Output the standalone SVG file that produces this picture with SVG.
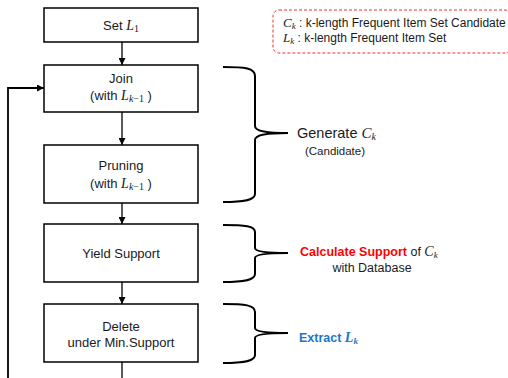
<svg xmlns="http://www.w3.org/2000/svg" width="508" height="378" viewBox="0 0 508 378">
<style>
.box{fill:#fff;stroke:#000;stroke-width:1.5}
.t{font-family:"Liberation Sans",Arial,sans-serif;font-size:13px;fill:#1a1a1a;text-anchor:middle}
.m{font-family:"Liberation Serif","DejaVu Serif",serif;font-style:italic}
.n{font-family:"Liberation Serif","DejaVu Serif",serif;font-style:normal}
.br{fill:none;stroke:#000;stroke-width:2}
.con{fill:none;stroke:#000;stroke-width:1.3}
.lg{font-family:"Liberation Sans",Arial,sans-serif;font-size:12px;fill:#1a1a1a}
</style>
<defs>
<marker id="ah" viewBox="0 0 10 10" refX="10" refY="5" markerWidth="7" markerHeight="7" orient="auto" markerUnits="userSpaceOnUse">
<path d="M0,0 L10,5 L0,10 Z" fill="#000"/>
</marker>
</defs>
<g id="legend">
<rect x="273" y="10" width="238" height="43" rx="6" fill="none" stroke="#e83030" stroke-width="1" stroke-dasharray="3,2"/>
<text class="lg" x="283" y="27"><tspan class="m" font-size="13">C</tspan><tspan class="m" font-size="9" dy="2">k</tspan><tspan dy="-2"> : k-length Frequent Item Set Candidate</tspan></text>
<text class="lg" x="283" y="42"><tspan class="m" font-size="13">L</tspan><tspan class="m" font-size="9" dy="2">k</tspan><tspan dy="-2"> : k-length Frequent Item Set</tspan></text>
</g>
<g id="connectors">
<line class="con" x1="122" y1="42" x2="122" y2="65" marker-end="url(#ah)"/>
<line class="con" x1="122" y1="112" x2="122" y2="145" marker-end="url(#ah)"/>
<line class="con" x1="122" y1="203" x2="122" y2="224" marker-end="url(#ah)"/>
<line class="con" x1="122" y1="282" x2="122" y2="304" marker-end="url(#ah)"/>
<line class="con" x1="122" y1="362" x2="122" y2="380"/>
<polyline fill="none" stroke="#000" stroke-width="1.8" points="8,380 8,88 44,88" marker-end="url(#ah)"/>
</g>
<g id="set-l1">
<rect class="box" x="44" y="8" width="154" height="34"/>
<text class="t" x="121" y="30">Set <tspan class="m" font-size="14">L</tspan><tspan class="n" font-size="10" dy="2">1</tspan></text>
</g>
<g id="join">
<rect class="box" x="44" y="65" width="154" height="47"/>
<text class="t" x="121" y="83">Join</text>
<text class="t" x="121" y="100">(with <tspan class="m" font-size="14">L</tspan><tspan class="m" font-size="10" dy="2">k</tspan><tspan class="n" font-size="10">−1</tspan><tspan dy="-2"> )</tspan></text>
</g>
<g id="pruning">
<rect class="box" x="44" y="145" width="154" height="58"/>
<text class="t" x="121" y="170">Pruning</text>
<text class="t" x="121" y="188">(with <tspan class="m" font-size="14">L</tspan><tspan class="m" font-size="10" dy="2">k</tspan><tspan class="n" font-size="10">−1</tspan><tspan dy="-2"> )</tspan></text>
</g>
<g id="yield">
<rect class="box" x="44" y="224" width="154" height="58"/>
<text class="t" x="121" y="258">Yield Support</text>
</g>
<g id="delete">
<rect class="box" x="44" y="304" width="154" height="58"/>
<text class="t" x="121" y="331">Delete</text>
<text class="t" x="121" y="347">under Min.Support</text>
</g>
<g id="brace-generate">
<path class="br" d="M223,67 C245,67 255,68 255,76 L255,126 C255,131 265,133 288,133 C265,133 255,135 255,140 L255,194 C255,200 245,202 223,202"/>
<text x="297" y="138" font-family="Liberation Sans,Arial,sans-serif" font-size="14.5" fill="#1a1a1a">Generate <tspan class="m" font-size="15">C</tspan><tspan class="m" font-size="10" dy="2">k</tspan></text>
<text x="335" y="155" font-family="Liberation Sans,Arial,sans-serif" font-size="11.5" fill="#1a1a1a" text-anchor="middle">(Candidate)</text>
</g>
<g id="brace-calc">
<path class="br" d="M223,225 C245,225 255,226 255,232 L255,248 C255,251 265,253 288,253 C265,253 255,255 255,258 L255,274 C255,280 245,282 223,282"/>
<text x="300" y="256" font-family="Liberation Sans,Arial,sans-serif" font-size="12.5" fill="#1a1a1a"><tspan font-weight="bold" fill="#ff0000">Calculate Support</tspan> of <tspan class="m" font-size="14">C</tspan><tspan class="m" font-size="9" dy="2">k</tspan></text>
<text x="372" y="272" font-family="Liberation Sans,Arial,sans-serif" font-size="12.5" fill="#1a1a1a" text-anchor="middle">with Database</text>
</g>
<g id="brace-extract">
<path class="br" d="M223,304 C245,304 255,305 255,312 L255,328 C255,331 265,333 288,333 C265,333 255,335 255,338 L255,355 C255,361 245,363 223,363"/>
<text x="299" y="342" font-family="Liberation Sans,Arial,sans-serif" font-size="12.5" font-weight="bold" fill="#1a78c8">Extract <tspan class="m" font-size="14">L</tspan><tspan class="m" font-size="9" dy="2">k</tspan></text>
</g>
</svg>
